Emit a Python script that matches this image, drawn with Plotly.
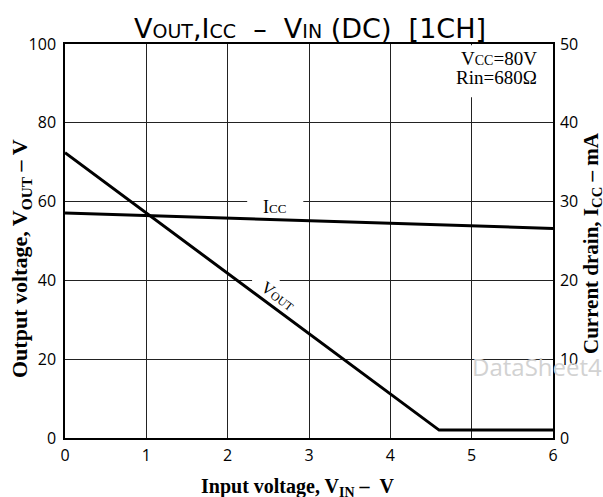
import plotly.graph_objects as go

# ---- data ----
vin_vout = [0.0, 4.6, 6.0]          # input voltage, V
vout = [72.4, 2.0, 2.0]             # output voltage, V
vin_icc = [0.0, 6.0]                # input voltage, V
icc = [28.55, 26.6]                 # current drain, mA

x_ticks = [0, 1, 2, 3, 4, 5, 6]
y_ticks = [0, 20, 40, 60, 80, 100]
y2_ticks = [0, 10, 20, 30, 40, 50]

SERIF = "Liberation Serif"
SANS = "Open Sans"

fig = go.Figure()
fig.add_trace(go.Scatter(x=vin_vout, y=vout, mode="lines",
                         line=dict(color="black", width=3), yaxis="y",
                         showlegend=False, hoverinfo="skip"))
fig.add_trace(go.Scatter(x=vin_icc, y=icc, mode="lines",
                         line=dict(color="black", width=3), yaxis="y2",
                         showlegend=False, hoverinfo="skip"))

axis_common = dict(showline=True, linecolor="black", linewidth=1.5,
                   gridcolor="#222222", gridwidth=1, zeroline=False,
                   ticks="", tickfont=dict(family=SANS, size=16, color="black"))

NB = "\u00a0"
small = "<span style='font-size:19px'>{}</span>"
title_text = ("V" + small.format("OUT") + ",I" + small.format("CC")
              + NB * 2 + "–" + NB * 2 + "V" + small.format("IN") + NB + "(DC)"
              + NB * 2 + "[1CH]")

W, H = 603, 497
L, R, T, B = 65, 50, 44, 59
pw, ph = W - L - R, H - T - B


def px(x):
    return (x - L) / pw


def py(y_from_top):
    return (H - y_from_top - B) / ph


def pix_ann(text, x, y, size, family=SERIF, angle=0, xanchor="center", color="black"):
    return dict(text=text, x=px(x), y=py(y), xref="paper", yref="paper",
                xanchor=xanchor, yanchor="middle", textangle=angle, showarrow=False,
                font=dict(family=family, size=size, color=color))


fig.update_layout(
    width=W, height=H,
    margin=dict(l=L, r=R, t=T, b=B),
    paper_bgcolor="white", plot_bgcolor="white",
    xaxis=dict(range=[0, 6], tickvals=x_ticks, ticktext=[str(v) for v in x_ticks],
               showgrid=True, mirror=True, ticklabelstandoff=2, **axis_common),
    yaxis=dict(range=[0, 100], tickvals=y_ticks, ticktext=[str(v) for v in y_ticks],
               showgrid=True, ticklabelstandoff=4, **axis_common),
    yaxis2=dict(range=[0, 50], tickvals=y2_ticks, ticktext=[str(v) for v in y2_ticks],
                overlaying="y", side="right", showgrid=False, ticklabelstandoff=2,
                **axis_common),
    title=dict(
        text=title_text,
        font=dict(family="DejaVu Sans", size=27, color="black"),
        x=px(310), xanchor="center", xref="paper",
        y=1 - 29 / H, yanchor="middle", yref="container"),
    shapes=[
        # gaps in grid lines behind labels
        dict(type="rect", xref="x", yref="y", x0=2.24, x1=2.93, y0=59, y1=61,
             fillcolor="white", line=dict(width=0), layer="between"),
        dict(type="rect", xref="x", yref="y", x0=2.30, x1=2.64, y0=39, y1=41,
             fillcolor="white", line=dict(width=0), layer="between"),
        dict(type="rect", xref="x", yref="y", x0=4.8, x1=5.9, y0=86.5, y1=99.7,
             fillcolor="white", line=dict(width=0), layer="between"),
    ],
    annotations=[
        pix_ann("V<span style='font-size:14px'>CC</span>=80V", 539, 59, 19, xanchor="right"),
        pix_ann("Rin=680\u03a9", 539, 77, 19, xanchor="right"),
        dict(text="I<span style='font-size:13px'>CC</span>", x=2.58, y=58.6, xref="x", yref="y",
             showarrow=False, font=dict(family=SERIF, size=18, color="black")),
        dict(text="V<span style='font-size:12px'>OUT</span>", x=2.62, y=35.8, xref="x", yref="y",
             textangle=37, showarrow=False, font=dict(family=SERIF, size=17, color="black")),
        pix_ann("<b>Output voltage, V<sub>OUT</sub> – V</b>", 21, 259, 22, angle=-90),
        pix_ann("<b>Current drain, I<sub>CC</sub> – mA</b>", 592, 243, 21, angle=-90),
        pix_ann("<b>Input voltage, V<sub>IN</sub> – " + NB + "V</b>", 298, 487, 20),
        pix_ann("DataSheet4U", 470, 366, 24, family=SANS, xanchor="left", color="#d2d2d2"),
    ],
)

fig.write_html("out.html", config={"displayModeBar": False},
               post_script="document.body.style.margin='0px';document.body.style.padding='0px';")
